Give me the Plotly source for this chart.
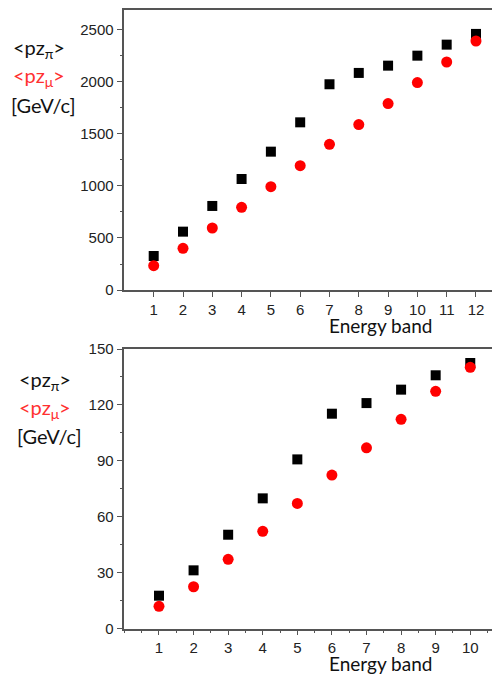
import plotly.graph_objects as go

# Top panel data (12 energy bands)
bands_top = list(range(1, 13))
pz_pi_top = [327, 561, 808, 1067, 1330, 1612, 1978, 2087, 2157, 2253, 2359, 2462]
pz_mu_top = [234, 401, 596, 795, 993, 1195, 1401, 1590, 1792, 1994, 2192, 2394]
yticks_top = [0, 500, 1000, 1500, 2000, 2500]

# Bottom panel data (10 energy bands)
bands_bot = list(range(1, 11))
pz_pi_bot = [17.7, 31.3, 50.4, 69.9, 90.8, 115.3, 121.0, 128.2, 135.9, 142.5]
pz_mu_bot = [12.0, 22.5, 37.2, 52.2, 67.2, 82.4, 97.0, 112.3, 127.3, 140.2]
yticks_bot = [0, 30, 60, 90, 120, 150]

# The page body has an 8px margin; the figure is sized to end at the window edge.
OFF = 8
W, H = 500 - OFF, 675 - OFF
fig = go.Figure()

BLACK = "#000000"
RED = "#ff0000"

fig.add_trace(go.Scatter(x=bands_top, y=pz_pi_top, mode="markers",
                         marker=dict(symbol="square", size=10, color=BLACK),
                         xaxis="x", yaxis="y", showlegend=False, cliponaxis=False))
fig.add_trace(go.Scatter(x=bands_top, y=pz_mu_top, mode="markers",
                         marker=dict(symbol="circle", size=11, color=RED),
                         xaxis="x", yaxis="y", showlegend=False, cliponaxis=False))
fig.add_trace(go.Scatter(x=bands_bot, y=pz_pi_bot, mode="markers",
                         marker=dict(symbol="square", size=10, color=BLACK),
                         xaxis="x2", yaxis="y2", showlegend=False, cliponaxis=False))
fig.add_trace(go.Scatter(x=bands_bot, y=pz_mu_bot, mode="markers",
                         marker=dict(symbol="circle", size=11, color=RED),
                         xaxis="x2", yaxis="y2", showlegend=False, cliponaxis=False))

def px(v):   # page x -> figure x
    return v - OFF
def py(v):   # page y -> figure y
    return v - OFF

AXC = "#555555"
TICKFONT = dict(family="Liberation Sans, Arial", size=15, color="#222222")
xdom = [px(124.4) / W, 1.0]
top_dom = [1 - py(290) / H, 1 - py(10) / H]
bot_dom = [1 - py(628.7) / H, 1 - py(349) / H]

common_x = dict(showgrid=False, zeroline=False, showline=True, linecolor=AXC, linewidth=1.5,
                ticks="outside", ticklen=5, tickcolor=AXC, tickwidth=1.2, mirror=True,
                tickfont=TICKFONT, domain=xdom, automargin=False)
common_y = dict(showgrid=False, zeroline=False, showline=True, linecolor=AXC, linewidth=1.5,
                ticks="outside", ticklen=6, tickcolor=AXC, tickwidth=1.2,
                tickfont=TICKFONT, automargin=False)

fig.update_layout(
    width=W, height=H,
    margin=dict(l=0, r=0, t=0, b=0, autoexpand=False),
    paper_bgcolor="white", plot_bgcolor="white",
    xaxis=dict(**common_x, range=[0, 12.82], tickmode="array", tickvals=bands_top,
               ticktext=[str(v) for v in bands_top], anchor="y"),
    yaxis=dict(**common_y, range=[0, 2692], tickmode="array", tickvals=yticks_top,
               ticktext=[str(v) for v in yticks_top], domain=top_dom, anchor="x",
               minor=dict(ticks="outside", ticklen=3, tickcolor=AXC, dtick=250, tick0=0)),
    xaxis2=dict(**common_x, range=[0, 10.86], tickmode="array", tickvals=bands_bot,
                ticktext=[str(v) for v in bands_bot], anchor="y2",
                minor=dict(ticks="outside", ticklen=3, tickcolor=AXC, dtick=0.5, tick0=0.5)),
    yaxis2=dict(**common_y, range=[0, 150], tickmode="array", tickvals=yticks_bot,
                ticktext=[str(v) for v in yticks_bot], domain=bot_dom, anchor="x2",
                minor=dict(ticks="outside", ticklen=3, tickcolor=AXC, dtick=15, tick0=0)),
)

LFONT = "Lato, Open Sans, sans-serif"
def lab(x, y, text, color, size=20, xanchor="left"):
    fig.add_annotation(x=px(x) / W, y=1 - py(y) / H, xref="paper", yref="paper", text=text,
                       showarrow=False, xanchor=xanchor, yanchor="middle",
                       font=dict(family=LFONT, size=size, color=color))

# top panel side labels (page coordinates)
lab(11, 48, "&lt;pz<sub>π</sub>&gt;", "#111111")
lab(11, 77, "&lt;pz<sub>μ</sub>&gt;", "#ff3030")
lab(9, 105, "[GeV/c]", "#111111")
lab(380, 326, "Energy band", "#111111", size=19, xanchor="center")
# bottom panel side labels
lab(17, 380, "&lt;pz<sub>π</sub>&gt;", "#111111")
lab(17, 408, "&lt;pz<sub>μ</sub>&gt;", "#ff3030")
lab(15, 436, "[GeV/c]", "#111111")
lab(380, 663, "Energy band", "#111111", size=19, xanchor="center")

fig.write_html("out.html")
